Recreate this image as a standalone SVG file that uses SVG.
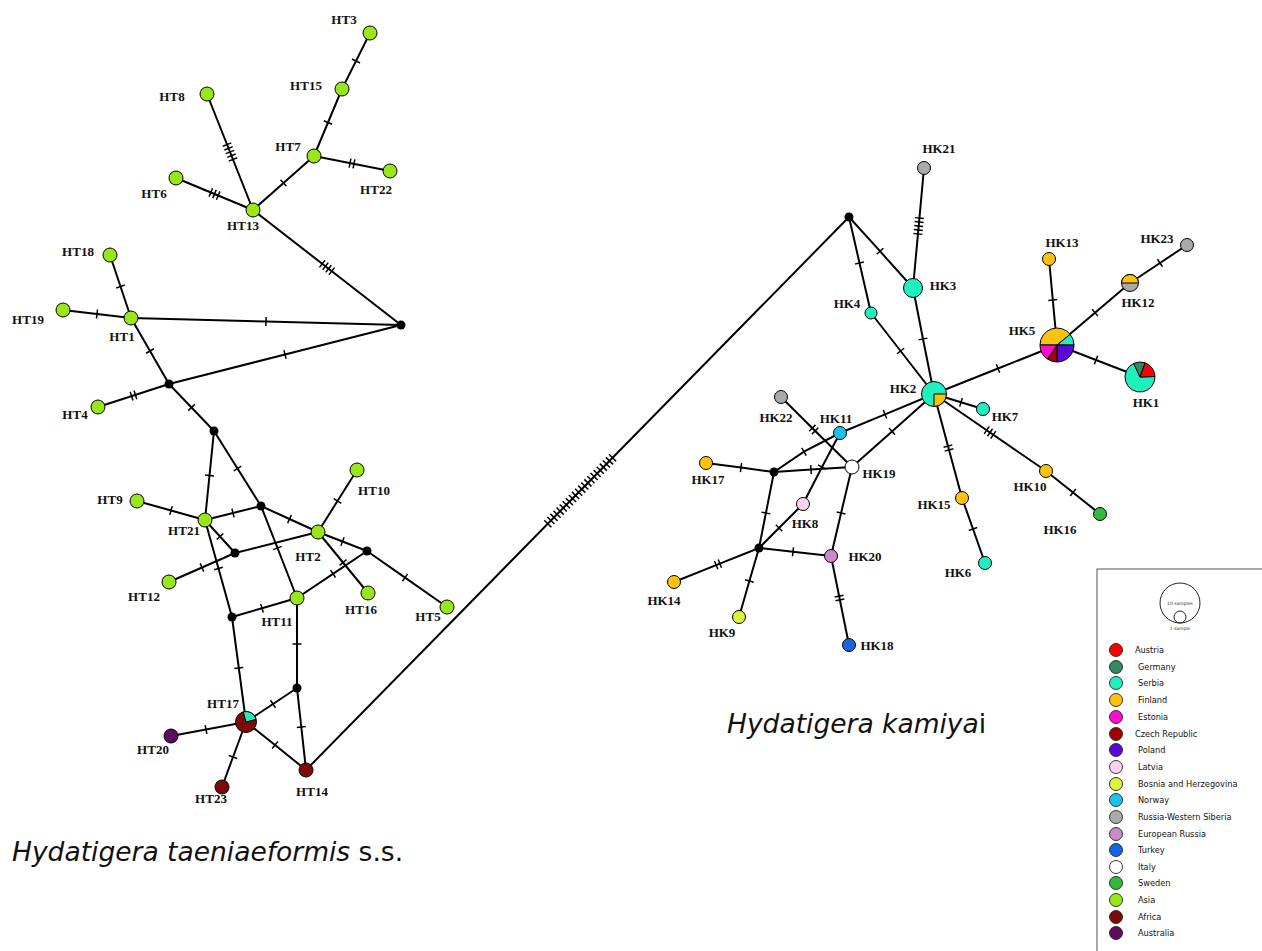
<svg xmlns="http://www.w3.org/2000/svg" width="1262" height="951" viewBox="0 0 1262 951">
<style>
.e{fill:none;stroke:#000;stroke-width:2}
.n{stroke:#000;stroke-width:1}
.j{fill:#000}
.lb{font-family:"Liberation Serif","Times New Roman",serif;font-weight:bold;font-size:13px;text-anchor:middle;fill:#111}
.lg{font-family:"DejaVu Sans",Verdana,sans-serif;font-size:8.2px;fill:#111}
.ttl{font-family:"DejaVu Sans",Verdana,sans-serif;font-size:26.5px;fill:#111}
.asia{fill:#99e61b}.serb{fill:#1ff0bd}.fin{fill:#ffc20e}.afr{fill:#7d0a0a}.aus{fill:#5e0b5e}
.rws{fill:#a9a9a9}.nor{fill:#1ac3ee}.lat{fill:#ffd3f0}.eru{fill:#cc8acb}.tur{fill:#1565e0}
.swe{fill:#36b83a}.ger{fill:#338a5c}.pol{fill:#5a0ad6}.est{fill:#ff0ccc}.aut{fill:#ff0000}
.cze{fill:#a30000}.bos{fill:#ddf23a}.ita{fill:#ffffff}
</style>
<defs>
<marker id="t1" markerUnits="userSpaceOnUse" markerWidth="20" markerHeight="20" viewBox="-10 -10 20 20" refX="0" refY="0" orient="auto" overflow="visible"><g stroke="#000" stroke-width="1.5"><line x1="0" y1="-4.5" x2="0" y2="4.5"/></g></marker>
<marker id="t2" markerUnits="userSpaceOnUse" markerWidth="20" markerHeight="20" viewBox="-10 -10 20 20" refX="0" refY="0" orient="auto" overflow="visible"><g stroke="#000" stroke-width="1.5"><line x1="-2" y1="-4.5" x2="-2" y2="4.5"/><line x1="2" y1="-4.5" x2="2" y2="4.5"/></g></marker>
<marker id="t3" markerUnits="userSpaceOnUse" markerWidth="20" markerHeight="20" viewBox="-10 -10 20 20" refX="0" refY="0" orient="auto" overflow="visible"><g stroke="#000" stroke-width="1.5"><line x1="-4" y1="-4.5" x2="-4" y2="4.5"/><line x1="0" y1="-4.5" x2="0" y2="4.5"/><line x1="4" y1="-4.5" x2="4" y2="4.5"/></g></marker>
<marker id="t4" markerUnits="userSpaceOnUse" markerWidth="20" markerHeight="20" viewBox="-10 -10 20 20" refX="0" refY="0" orient="auto" overflow="visible"><g stroke="#000" stroke-width="1.5"><line x1="-6" y1="-4.5" x2="-6" y2="4.5"/><line x1="-2" y1="-4.5" x2="-2" y2="4.5"/><line x1="2" y1="-4.5" x2="2" y2="4.5"/><line x1="6" y1="-4.5" x2="6" y2="4.5"/></g></marker>
<marker id="t5" markerUnits="userSpaceOnUse" markerWidth="20" markerHeight="20" viewBox="-10 -10 20 20" refX="0" refY="0" orient="auto" overflow="visible"><g stroke="#000" stroke-width="1.5"><line x1="-8" y1="-4.5" x2="-8" y2="4.5"/><line x1="-4" y1="-4.5" x2="-4" y2="4.5"/><line x1="0" y1="-4.5" x2="0" y2="4.5"/><line x1="4" y1="-4.5" x2="4" y2="4.5"/><line x1="8" y1="-4.5" x2="8" y2="4.5"/></g></marker>
<marker id="t22" markerUnits="userSpaceOnUse" markerWidth="20" markerHeight="20" viewBox="-10 -10 20 20" refX="0" refY="0" orient="auto" overflow="visible"><g stroke="#000" stroke-width="1.5">
<line x1="-46.2" y1="-5" x2="-46.2" y2="5"/><line x1="-41.8" y1="-5" x2="-41.8" y2="5"/><line x1="-37.4" y1="-5" x2="-37.4" y2="5"/><line x1="-33" y1="-5" x2="-33" y2="5"/><line x1="-28.6" y1="-5" x2="-28.6" y2="5"/><line x1="-24.2" y1="-5" x2="-24.2" y2="5"/><line x1="-19.8" y1="-5" x2="-19.8" y2="5"/><line x1="-15.4" y1="-5" x2="-15.4" y2="5"/><line x1="-11" y1="-5" x2="-11" y2="5"/><line x1="-6.6" y1="-5" x2="-6.6" y2="5"/><line x1="-2.2" y1="-5" x2="-2.2" y2="5"/>
<line x1="2.2" y1="-5" x2="2.2" y2="5"/><line x1="6.6" y1="-5" x2="6.6" y2="5"/><line x1="11" y1="-5" x2="11" y2="5"/><line x1="15.4" y1="-5" x2="15.4" y2="5"/><line x1="19.8" y1="-5" x2="19.8" y2="5"/><line x1="24.2" y1="-5" x2="24.2" y2="5"/><line x1="28.6" y1="-5" x2="28.6" y2="5"/><line x1="33" y1="-5" x2="33" y2="5"/><line x1="37.4" y1="-5" x2="37.4" y2="5"/><line x1="41.8" y1="-5" x2="41.8" y2="5"/><line x1="46.2" y1="-5" x2="46.2" y2="5"/>
</g></marker>
</defs>
<rect width="1262" height="951" fill="#fff"/>

<g id="connectors">
<path class="e" marker-mid="url(#t1)" d="M370 33 L356 61 L342 89"/>
<path class="e" marker-mid="url(#t1)" d="M342 89 L328 122.5 L314 156"/>
<path class="e" marker-mid="url(#t2)" d="M314 156 L352 163.5 L390 171"/>
<path class="e" marker-mid="url(#t1)" d="M314 156 L283.5 183 L253 210"/>
<path class="e" marker-mid="url(#t5)" d="M207 94 L230 152 L253 210"/>
<path class="e" marker-mid="url(#t3)" d="M176 178 L214.5 194 L253 210"/>
<path class="e" marker-mid="url(#t4)" d="M253 210 L327 267.5 L401 325"/>
<path class="e" marker-mid="url(#t1)" d="M110 255 L120.5 286.5 L131 318"/>
<path class="e" marker-mid="url(#t1)" d="M63 310 L97 314 L131 318"/>
<path class="e" marker-mid="url(#t1)" d="M131 318 L266 321.5 L401 325"/>
<path class="e" marker-mid="url(#t1)" d="M131 318 L150 351 L169 384"/>
<path class="e" marker-mid="url(#t1)" d="M169 384 L285 354.5 L401 325"/>
<path class="e" marker-mid="url(#t2)" d="M98 407 L133.5 395.5 L169 384"/>
<path class="e" marker-mid="url(#t1)" d="M169 384 L191.5 407.5 L214 431"/>
<path class="e" marker-mid="url(#t1)" d="M214 431 L209.5 475.5 L205 520"/>
<path class="e" marker-mid="url(#t1)" d="M214 431 L237.5 468.5 L261 506"/>
<path class="e" marker-mid="url(#t1)" d="M137 501 L171 510.5 L205 520"/>
<path class="e" marker-mid="url(#t1)" d="M205 520 L233 513 L261 506"/>
<path class="e" marker-mid="url(#t1)" d="M261 506 L289.5 519 L318 532"/>
<path class="e" marker-mid="url(#t1)" d="M205 520 L220 536.5 L235 553"/>
<path class="e" d="M235 553 L318 532"/>
<path class="e" marker-mid="url(#t1)" d="M169 582 L202 567.5 L235 553"/>
<path class="e" marker-mid="url(#t1)" d="M205 520 L218.5 568.5 L232 617"/>
<path class="e" marker-mid="url(#t1)" d="M261 506 L277.5 548 L297 598"/>
<path class="e" marker-mid="url(#t1)" d="M318 532 L337.5 501 L357 470"/>
<path class="e" marker-mid="url(#t1)" d="M318 532 L342.5 541.5 L367 551"/>
<path class="e" marker-mid="url(#t1)" d="M318 532 L343 562.5 L368 593"/>
<path class="e" marker-mid="url(#t1)" d="M367 551 L405 577.6 L447 607"/>
<path class="e" marker-mid="url(#t1)" d="M367 551 L333 573.8 L297 598"/>
<path class="e" marker-mid="url(#t1)" d="M232 617 L262 608.2 L297 598"/>
<path class="e" marker-mid="url(#t1)" d="M232 617 L238.8 668 L246 722"/>
<path class="e" marker-mid="url(#t1)" d="M297 598 L297 644 L297 688"/>
<path class="e" marker-mid="url(#t1)" d="M297 688 L273 704 L246 722"/>
<path class="e" marker-mid="url(#t1)" d="M297 688 L301.3 727 L306 770"/>
<path class="e" marker-mid="url(#t1)" d="M246 722 L275 745 L306 770"/>
<path class="e" marker-mid="url(#t1)" d="M246 722 L206 729.5 L171 736"/>
<path class="e" marker-mid="url(#t1)" d="M246 722 L233 757 L222 787"/>
<path class="e" marker-mid="url(#t22)" d="M306 770 L580.2 490.7 L849 217"/>
<path class="e" marker-mid="url(#t1)" d="M849 217 L859.5 263 L871 313"/>
<path class="e" marker-mid="url(#t1)" d="M849 217 L880 251.2 L913 288"/>
<path class="e" marker-mid="url(#t5)" d="M924 168 L918.7 226 L913 288"/>
<path class="e" marker-mid="url(#t1)" d="M871 313 L900.6 351 L934 394"/>
<path class="e" marker-mid="url(#t1)" d="M913 288 L923 339 L934 394"/>
<path class="e" marker-mid="url(#t1)" d="M934 394 L998 368.5 L1057 345"/>
<path class="e" marker-mid="url(#t1)" d="M1049 259 L1052.8 300 L1057 345"/>
<path class="e" marker-mid="url(#t1)" d="M1057 345 L1095 312.7 L1130 283"/>
<path class="e" marker-mid="url(#t1)" d="M1130 283 L1160 263 L1187 245"/>
<path class="e" marker-mid="url(#t1)" d="M1057 345 L1096 360 L1140 377"/>
<path class="e" marker-mid="url(#t1)" d="M934 394 L961 402.3 L983 409"/>
<path class="e" marker-mid="url(#t1)" d="M934 394 L885 414.3 L840 433"/>
<path class="e" marker-mid="url(#t1)" d="M934 394 L892 431.4 L852 467"/>
<path class="e" marker-mid="url(#t2)" d="M934 394 L948.5 448 L962 498"/>
<path class="e" marker-mid="url(#t3)" d="M934 394 L990 432.5 L1046 471"/>
<path class="e" marker-mid="url(#t1)" d="M1046 471 L1073 492.5 L1100 514"/>
<path class="e" marker-mid="url(#t1)" d="M962 498 L973 529 L985 563"/>
<path class="e" marker-mid="url(#t2)" d="M781 397 L813.7 429.5 L852 467"/>
<path class="e" marker-mid="url(#t1)" d="M840 433 L804 451.7 L774 472"/>
<path class="e" marker-mid="url(#t1)" d="M840 433 L822 467 L803 504"/>
<path class="e" marker-mid="url(#t1)" d="M706 463 L741 467.6 L774 472"/>
<path class="e" marker-mid="url(#t1)" d="M774 472 L811 469.6 L852 467"/>
<path class="e" marker-mid="url(#t1)" d="M774 472 L765.9 513 L759 548"/>
<path class="e" marker-mid="url(#t1)" d="M803 504 L779 528 L759 548"/>
<path class="e" marker-mid="url(#t1)" d="M759 548 L793 551.8 L831 556"/>
<path class="e" marker-mid="url(#t1)" d="M852 467 L841.1 513 L831 556"/>
<path class="e" marker-mid="url(#t2)" d="M759 548 L718 564.4 L674 582"/>
<path class="e" marker-mid="url(#t1)" d="M759 548 L749.4 581 L739 617"/>
<path class="e" marker-mid="url(#t2)" d="M831 556 L839.5 598 L849 645"/>
</g>

<g id="HT3"><circle class="n asia" cx="370" cy="33" r="7"/><text class="lb" x="344" y="24">HT3</text></g>
<g id="HT15"><circle class="n asia" cx="342" cy="89" r="7"/><text class="lb" x="306" y="90">HT15</text></g>
<g id="HT8"><circle class="n asia" cx="207" cy="94" r="7"/><text class="lb" x="172" y="101">HT8</text></g>
<g id="HT7"><circle class="n asia" cx="314" cy="156" r="7"/><text class="lb" x="288" y="151">HT7</text></g>
<g id="HT22"><circle class="n asia" cx="390" cy="171" r="7"/><text class="lb" x="376" y="194">HT22</text></g>
<g id="HT6"><circle class="n asia" cx="176" cy="178" r="7"/><text class="lb" x="154" y="198">HT6</text></g>
<g id="HT13"><circle class="n asia" cx="253" cy="210" r="7"/><text class="lb" x="243" y="230">HT13</text></g>
<g id="J1"><circle class="j" cx="401" cy="325" r="4.5"/></g>
<g id="HT18"><circle class="n asia" cx="110" cy="255" r="7"/><text class="lb" x="78" y="256">HT18</text></g>
<g id="HT19"><circle class="n asia" cx="63" cy="310" r="7"/><text class="lb" x="28" y="324">HT19</text></g>
<g id="HT1"><circle class="n asia" cx="131" cy="318" r="7"/><text class="lb" x="122" y="341">HT1</text></g>
<g id="J2"><circle class="j" cx="169" cy="384" r="4.5"/></g>
<g id="HT4"><circle class="n asia" cx="98" cy="407" r="7"/><text class="lb" x="75" y="419">HT4</text></g>
<g id="J3"><circle class="j" cx="214" cy="431" r="4.5"/></g>
<g id="HT9"><circle class="n asia" cx="137" cy="501" r="7"/><text class="lb" x="110" y="504">HT9</text></g>
<g id="HT21"><circle class="n asia" cx="205" cy="520" r="7"/><text class="lb" x="184" y="535">HT21</text></g>
<g id="J4"><circle class="j" cx="261" cy="506" r="4.5"/></g>
<g id="HT10"><circle class="n asia" cx="357" cy="470" r="7"/><text class="lb" x="374" y="495">HT10</text></g>
<g id="HT2"><circle class="n asia" cx="318" cy="532" r="7"/><text class="lb" x="308" y="561">HT2</text></g>
<g id="J5"><circle class="j" cx="235" cy="553" r="4.5"/></g>
<g id="J6"><circle class="j" cx="367" cy="551" r="4.5"/></g>
<g id="HT12"><circle class="n asia" cx="169" cy="582" r="7"/><text class="lb" x="144" y="601">HT12</text></g>
<g id="HT16"><circle class="n asia" cx="368" cy="593" r="7"/><text class="lb" x="361" y="614">HT16</text></g>
<g id="HT5"><circle class="n asia" cx="447" cy="607" r="7"/><text class="lb" x="428" y="621">HT5</text></g>
<g id="J7"><circle class="j" cx="232" cy="617" r="4.5"/></g>
<g id="HT11"><circle class="n asia" cx="297" cy="598" r="7"/><text class="lb" x="277" y="626">HT11</text></g>
<g id="J8"><circle class="j" cx="297" cy="688" r="4.5"/></g>
<g id="HT17"><circle class="n afr" cx="246" cy="722" r="10.5"/><path class="n serb" d="M246 722 L243.28 711.86 A10.5 10.5 0 0 1 256.14 719.28 Z"/><text class="lb" x="223" y="708">HT17</text></g>
<g id="HT20"><circle class="n aus" cx="171" cy="736" r="7"/><text class="lb" x="153" y="754">HT20</text></g>
<g id="HT23"><circle class="n afr" cx="222" cy="787" r="7"/><text class="lb" x="211" y="803">HT23</text></g>
<g id="HT14"><circle class="n afr" cx="306" cy="770" r="7"/><text class="lb" x="312" y="796">HT14</text></g>

<g id="JK"><circle class="j" cx="849" cy="217" r="4.5"/></g>
<g id="HK21"><circle class="n rws" cx="924" cy="168" r="6.5"/><text class="lb" x="939" y="153">HK21</text></g>
<g id="HK3"><circle class="n serb" cx="913" cy="288" r="9.5"/><text class="lb" x="943" y="290">HK3</text></g>
<g id="HK4"><circle class="n serb" cx="871" cy="313" r="6"/><text class="lb" x="847" y="308">HK4</text></g>
<g id="HK2"><circle class="n serb" cx="934" cy="394" r="12.5"/><path class="n fin" d="M934 394 L946.5 394 A12.5 12.5 0 0 1 934 406.5 Z"/><text class="lb" x="903" y="393">HK2</text></g>
<g id="HK13"><circle class="n fin" cx="1049" cy="259" r="6.5"/><text class="lb" x="1062" y="247">HK13</text></g>
<g id="HK23"><circle class="n rws" cx="1187" cy="245" r="6.5"/><text class="lb" x="1157" y="243">HK23</text></g>
<g id="HK12"><circle class="n rws" cx="1130" cy="283" r="8.5"/><path class="n fin" d="M1121.5 283 A8.5 8.5 0 0 1 1138.5 283 Z"/><text class="lb" x="1138" y="307">HK12</text></g>
<g id="HK5">
<path class="n fin" d="M1057 345 L1040 345 A17 17 0 0 1 1070.21 334.3 Z"/>
<path class="n serb" d="M1057 345 L1070.21 334.3 A17 17 0 0 1 1074 345 Z"/>
<path class="n pol" d="M1057 345 L1074 345 A17 17 0 0 1 1057 362 Z"/>
<path class="n cze" d="M1057 345 L1057 362 A17 17 0 0 1 1047.49 359.09 Z"/>
<path class="n est" d="M1057 345 L1047.49 359.09 A17 17 0 0 1 1040 345 Z"/>
<text class="lb" x="1022" y="335">HK5</text></g>
<g id="HK1">
<path class="n serb" d="M1140 377 L1154.99 376.48 A15 15 0 1 1 1133.66 363.41 Z"/>
<path class="n ger" d="M1140 377 L1133.66 363.41 A15 15 0 0 1 1145.13 362.9 Z"/>
<path class="n aut" d="M1140 377 L1145.13 362.9 A15 15 0 0 1 1154.99 376.48 Z"/>
<text class="lb" x="1146" y="407">HK1</text></g>
<g id="HK7"><circle class="n serb" cx="983" cy="409" r="6.5"/><text class="lb" x="1005" y="421">HK7</text></g>
<g id="HK22"><circle class="n rws" cx="781" cy="397" r="6.5"/><text class="lb" x="776" y="422">HK22</text></g>
<g id="HK11"><circle class="n nor" cx="840" cy="433" r="6.5"/><text class="lb" x="836" y="423">HK11</text></g>
<g id="HK19"><circle class="n ita" cx="852" cy="467" r="7"/><text class="lb" x="879" y="478">HK19</text></g>
<g id="HK17"><circle class="n fin" cx="706" cy="463" r="6.5"/><text class="lb" x="708" y="484">HK17</text></g>
<g id="Ja"><circle class="j" cx="774" cy="472" r="4.5"/></g>
<g id="HK8"><circle class="n lat" cx="803" cy="504" r="6.5"/><text class="lb" x="805" y="528">HK8</text></g>
<g id="Jb"><circle class="j" cx="759" cy="548" r="4.5"/></g>
<g id="HK20"><circle class="n eru" cx="831" cy="556" r="6.5"/><text class="lb" x="865" y="561">HK20</text></g>
<g id="HK14"><circle class="n fin" cx="674" cy="582" r="6.5"/><text class="lb" x="664" y="605">HK14</text></g>
<g id="HK9"><circle class="n bos" cx="739" cy="617" r="6.5"/><text class="lb" x="722" y="637">HK9</text></g>
<g id="HK18"><circle class="n tur" cx="849" cy="645" r="6.5"/><text class="lb" x="877" y="650">HK18</text></g>
<g id="HK15"><circle class="n fin" cx="962" cy="498" r="6.5"/><text class="lb" x="934" y="509">HK15</text></g>
<g id="HK6"><circle class="n serb" cx="985" cy="563" r="6.5"/><text class="lb" x="958" y="577">HK6</text></g>
<g id="HK10"><circle class="n fin" cx="1046" cy="471" r="6.5"/><text class="lb" x="1030" y="491">HK10</text></g>
<g id="HK16"><circle class="n swe" cx="1100" cy="514" r="6.5"/><text class="lb" x="1060" y="534">HK16</text></g>

<text class="ttl" x="12" y="861"><tspan font-style="italic">Hydatigera taeniaeformis</tspan> s.s.</text>
<text class="ttl" x="727" y="733"><tspan font-style="italic">Hydatigera kamiya</tspan>i</text>

<g id="legend">
<rect x="1097" y="569" width="175" height="395" fill="#fff" stroke="#555" stroke-width="1"/>
<circle cx="1180" cy="603" r="20" fill="none" stroke="#222" stroke-width="1"/>
<circle cx="1180" cy="617" r="6" fill="none" stroke="#222" stroke-width="1"/>
<text x="1180" y="605" font-family="DejaVu Sans, sans-serif" font-size="4.5" text-anchor="middle" fill="#333">10 samples</text>
<text x="1180" y="630" font-family="DejaVu Sans, sans-serif" font-size="4.5" text-anchor="middle" fill="#333">1 sample</text>
<g stroke="#222" stroke-width="0.9">
<circle class="aut" cx="1116" cy="650" r="6.5"/>
<circle class="ger" cx="1116" cy="667" r="6.5"/>
<circle class="serb" cx="1116" cy="683" r="6.5"/>
<circle class="fin" cx="1116" cy="700" r="6.5"/>
<circle class="est" cx="1116" cy="717" r="6.5"/>
<circle class="cze" cx="1116" cy="734" r="6.5"/>
<circle class="pol" cx="1116" cy="750" r="6.5"/>
<circle class="lat" cx="1116" cy="767" r="6.5"/>
<circle class="bos" cx="1116" cy="784" r="6.5"/>
<circle class="nor" cx="1116" cy="800" r="6.5"/>
<circle class="rws" cx="1116" cy="817" r="6.5"/>
<circle class="eru" cx="1116" cy="834" r="6.5"/>
<circle class="tur" cx="1116" cy="850" r="6.5"/>
<circle class="ita" cx="1116" cy="867" r="6.5"/>
<circle class="swe" cx="1116" cy="883" r="6.5"/>
<circle class="asia" cx="1116" cy="900" r="6.5"/>
<circle class="afr" cx="1116" cy="917" r="6.5"/>
<circle class="aus" cx="1116" cy="933" r="6.5"/>
</g>
<text class="lg" x="1135" y="653">Austria</text>
<text class="lg" x="1138" y="670">Germany</text>
<text class="lg" x="1138" y="686">Serbia</text>
<text class="lg" x="1138" y="703">Finland</text>
<text class="lg" x="1138" y="720">Estonia</text>
<text class="lg" x="1135" y="737">Czech Republic</text>
<text class="lg" x="1138" y="753">Poland</text>
<text class="lg" x="1138" y="770">Latvia</text>
<text class="lg" x="1138" y="787">Bosnia and Herzegovina</text>
<text class="lg" x="1138" y="803">Norway</text>
<text class="lg" x="1138" y="820">Russia-Western Siberia</text>
<text class="lg" x="1138" y="837">European Russia</text>
<text class="lg" x="1138" y="853">Turkey</text>
<text class="lg" x="1138" y="870">Italy</text>
<text class="lg" x="1138" y="886">Sweden</text>
<text class="lg" x="1138" y="903">Asia</text>
<text class="lg" x="1138" y="920">Africa</text>
<text class="lg" x="1138" y="936">Australia</text>
</g>
</svg>
